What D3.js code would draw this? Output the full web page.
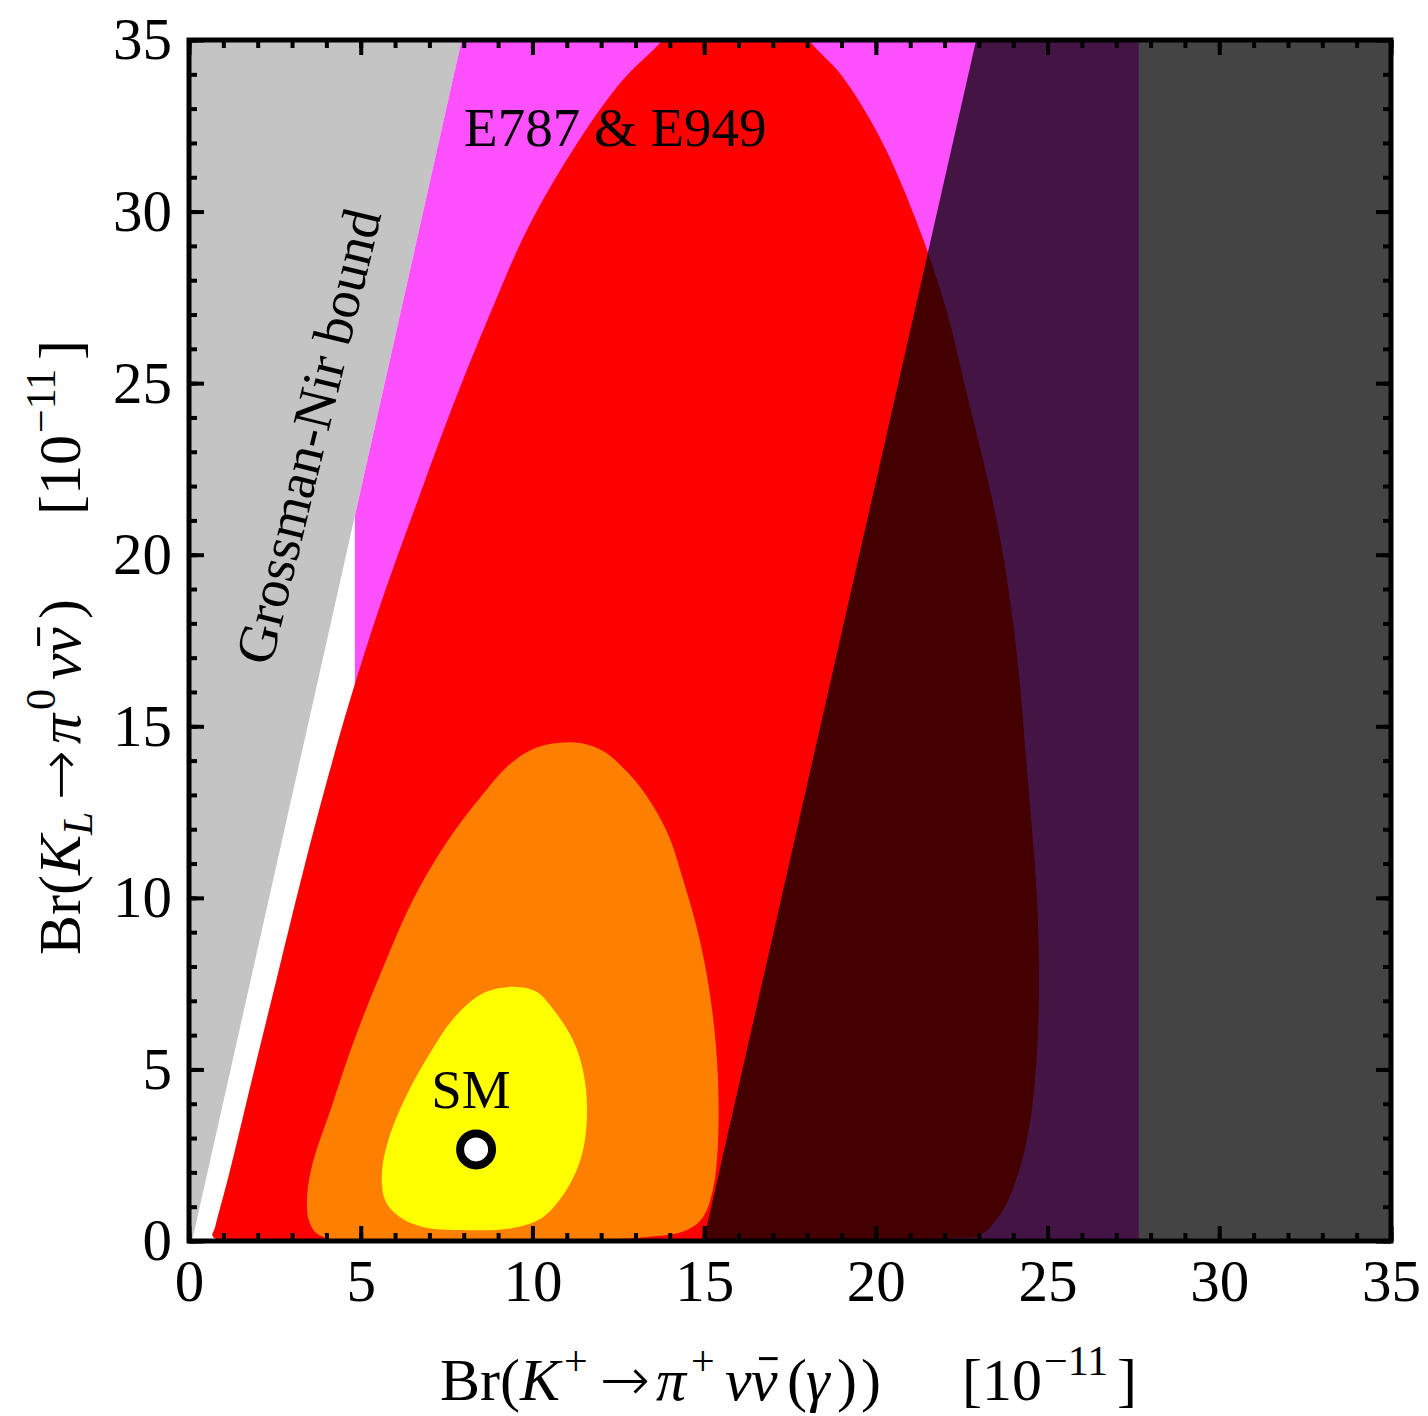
<!DOCTYPE html>
<html>
<head>
<meta charset="utf-8">
<script src="https://cdn.jsdelivr.net/npm/d3@7"></script>
<style>
  body { margin: 0; background: #fff; }
  text { font-family: "Liberation Serif", "Times New Roman", serif; }
</style>
</head>
<body>
<script>
// Br(K+ -> pi+ nu nubar) vs Br(KL -> pi0 nu nubar), both in 10^-11
const xDomain = [0, 35]
const yDomain = [0, 35]
const majorTicks = [0, 5, 10, 15, 20, 25, 30, 35]
const minorTicks = d3.range(0, 36, 1)

// Grossman-Nir excluded wedge (upper left)
const gnBound = [[0, 0], [0.09, 0], [7.94, 35], [0, 35]]

// E787 & E949 band (magenta)
const e949Band = [[4.83, 0], [4.83, 21.13], [7.94, 35], [27.66, 35], [27.66, 0]]

// darkened region to the right
const darkBand = [[14.98, 0], [22.92, 35], [35, 35], [35, 0]]

// contour regions
const redContour = [
  [0.70, 0.12], [0.76, 0.40], [1.16, 1.92], [1.78, 4.49], [2.53, 7.55], [3.29, 10.64],
  [3.96, 13.20], [4.69, 15.77], [5.62, 18.68], [6.67, 21.60], [7.66, 24.28], [8.68, 26.81],
  [9.87, 29.52], [11.27, 31.94], [12.61, 33.81], [13.72, 34.92],
  [14.8, 36.2], [17.1, 36.2],
  [18.11, 34.92], [18.99, 33.98], [20.12, 32.15], [21.14, 29.82], [22.01, 27.28], [22.63, 24.77],
  [23.53, 20.93], [24.05, 17.58], [24.43, 13.38], [24.69, 10.00], [24.75, 7.49], [24.69, 5.48],
  [24.49, 3.47], [24.14, 1.95], [23.67, 0.85], [23.03, 0.17], [22.16, 0.09]
]
const orangeContour = [
  [3.90, 0.12], [3.52, 0.52], [3.44, 1.31], [3.61, 2.30], [4.11, 3.79], [4.78, 5.77],
  [5.56, 7.75], [6.52, 9.94], [7.51, 11.63], [8.47, 12.91], [9.35, 13.90], [10.02, 14.34],
  [10.72, 14.51], [11.39, 14.51], [12.06, 14.28], [12.64, 13.79], [13.22, 13.12], [13.92, 11.92],
  [14.39, 10.52], [14.88, 8.74], [15.23, 6.76], [15.40, 4.78], [15.40, 2.80], [15.26, 1.52],
  [14.97, 0.70], [14.50, 0.32], [13.34, 0.12]
]
const yellowContour = [
  [9.55, 7.40], [10.13, 7.26], [10.60, 6.76], [11.18, 5.86], [11.47, 4.98], [11.59, 3.79],
  [11.44, 2.51], [11.01, 1.52], [10.31, 0.70], [9.44, 0.38], [7.98, 0.32], [6.81, 0.41],
  [6.14, 0.70], [5.71, 1.19], [5.62, 2.01], [5.85, 3.09], [6.35, 4.28], [7.02, 5.48],
  [7.69, 6.47], [8.47, 7.17], [9.06, 7.37]
]

const smPoint = [8.36, 2.67]

const margin = {top: 40, right: 37, bottom: 175, left: 189},
  W = 1428, H = 1416,
  width = W - margin.left - margin.right,
  height = H - margin.top - margin.bottom

const tickFont = 59, titleFont = 60, labelFont = 55, supFont = 42

const x = d3.scaleLinear().domain(xDomain).range([0, width])
const y = d3.scaleLinear().domain(yDomain).range([height, 0])

const svg = d3.select("body").append("svg")
  .attr("width", W)
  .attr("height", H)

svg.append("defs").append("clipPath").attr("id", "plotclip")
  .append("rect").attr("x", 0).attr("y", 0).attr("width", width).attr("height", height)

const g = svg.append("g")
  .attr("transform", "translate(" + margin.left + "," + margin.top + ")")

const plot = g.append("g").attr("clip-path", "url(#plotclip)")

const poly = d3.line().x(d => x(d[0])).y(d => y(d[1])).curve(d3.curveLinearClosed)
const smooth = d3.line().x(d => x(d[0])).y(d => y(d[1])).curve(d3.curveCatmullRomClosed.alpha(0.5))

plot.append("rect").attr("width", width).attr("height", height).attr("fill", "#fff")
plot.append("path").attr("d", poly(gnBound)).attr("fill", "#c4c4c4")
plot.append("path").attr("d", poly(e949Band)).attr("fill", "#ff50ff")
plot.append("path").attr("d", smooth(redContour)).attr("fill", "#ff0000")
plot.append("path").attr("d", smooth(orangeContour)).attr("fill", "#ff8000")
plot.append("path").attr("d", smooth(yellowContour)).attr("fill", "#ffff00")
plot.append("path").attr("d", poly(darkBand)).attr("fill", "#000").attr("fill-opacity", 0.735)

// SM point
plot.append("circle")
  .attr("cx", x(smPoint[0]))
  .attr("cy", y(smPoint[1]))
  .attr("r", 16)
  .attr("fill", "#fff")
  .attr("stroke", "#000")
  .attr("stroke-width", 8)

g.append("text")
  .attr("x", x(8.21)).attr("y", y(3.88))
  .attr("text-anchor", "middle")
  .attr("font-size", labelFont)
  .text("SM")

g.append("text")
  .attr("x", x(8.01)).attr("y", y(31.92))
  .attr("font-size", labelFont)
  .text("E787 & E949")

g.append("text")
  .attr("transform", "translate(" + x(2.39) + "," + y(16.73) + ") rotate(-76.3)")
  .attr("font-size", labelFont)
  .text("Grossman-Nir bound")

// frame
g.append("rect")
  .attr("width", width).attr("height", height)
  .attr("fill", "none").attr("stroke", "#000").attr("stroke-width", 5)

function styleAxis(sel) {
  sel.select(".domain").remove()
  sel.selectAll("line").attr("stroke", "#000").attr("stroke-width", 4)
  sel.attr("font-size", tickFont).attr("font-family", "Liberation Serif, Times New Roman, serif")
  sel.selectAll("text").attr("fill", "#000")
}

const fmt = d3.format("d")
const bottomG = g.append("g").attr("transform", "translate(0," + height + ")")
bottomG.append("g").call(d3.axisBottom(x).tickValues(minorTicks).tickSize(-8).tickFormat("")).call(styleAxis)
bottomG.append("g").call(d3.axisBottom(x).tickValues(majorTicks).tickSize(-15).tickPadding(18).tickFormat(fmt)).call(styleAxis)

const topG = g.append("g")
topG.append("g").call(d3.axisTop(x).tickValues(minorTicks).tickSize(-8).tickFormat("")).call(styleAxis)
topG.append("g").call(d3.axisTop(x).tickValues(majorTicks).tickSize(-15).tickFormat("")).call(styleAxis)

const leftG = g.append("g")
leftG.append("g").call(d3.axisLeft(y).tickValues(minorTicks).tickSize(-8).tickFormat("")).call(styleAxis)
leftG.append("g").call(d3.axisLeft(y).tickValues(majorTicks).tickSize(-15).tickPadding(17).tickFormat(fmt)).call(styleAxis)

const rightG = g.append("g").attr("transform", "translate(" + width + ",0)")
rightG.append("g").call(d3.axisRight(y).tickValues(minorTicks).tickSize(-8).tickFormat("")).call(styleAxis)
rightG.append("g").call(d3.axisRight(y).tickValues(majorTicks).tickSize(-15).tickFormat("")).call(styleAxis)

// axis titles: each part sits at its own offset; nu-bar gets a drawn bar
function addTitle(holder, parts) {
  const t = holder.append("text").attr("font-size", titleFont)
  let idx = 0
  const bars = []
  parts.forEach(p => {
    const ts = t.append("tspan").text(p.t)
      .attr("x", p.x)
      .attr("y", p.y || 0)
    if (p.i) ts.attr("font-style", "italic")
    if (p.s) ts.attr("font-size", p.s)
    if (p.f) ts.attr("font-family", p.f).attr("font-weight", 200)
    if (p.bar) bars.push(idx)
    idx += p.t.length
  })
  bars.forEach(k => {
    const e = t.node().getExtentOfChar(k)
    holder.append("line")
      .attr("x1", e.x + e.width * 0.3).attr("x2", e.x + e.width * 1.0)
      .attr("y1", -0.69 * titleFont).attr("y2", -0.69 * titleFont)
      .attr("stroke", "#000").attr("stroke-width", 3)
  })
}

const arrowFont = "DejaVu Sans"
const xTitle = svg.append("g").attr("transform", "translate(440,1400)")
addTitle(xTitle, [
  {t: "Br(", x: 0},
  {t: "K", i: true, x: 80},
  {t: "+", s: supFont, x: 124, y: -25},
  {t: "\u2192", f: arrowFont, x: 160},
  {t: "\u03c0", i: true, x: 216},
  {t: "+", s: supFont, x: 251, y: -25},
  {t: "\u03bd", i: true, x: 285},
  {t: "\u03bd", i: true, bar: true, x: 311},
  {t: "(", x: 347},
  {t: "\u03b3", i: true, x: 366},
  {t: ")", x: 397},
  {t: ")", x: 421},
  {t: "[10", x: 522},
  {t: "\u221211", s: supFont, x: 604, y: -25},
  {t: "]", x: 677}
])

const yTitle = svg.append("g").attr("transform", "translate(80,955) rotate(-90)")
addTitle(yTitle, [
  {t: "Br(", x: 0},
  {t: "K", i: true, x: 80},
  {t: "L", i: true, s: supFont, x: 120, y: 12},
  {t: "\u2192", f: arrowFont, x: 155},
  {t: "\u03c0", i: true, x: 211},
  {t: "0", s: supFont, x: 245, y: -25},
  {t: "\u03bd", i: true, x: 275},
  {t: "\u03bd", i: true, bar: true, x: 301},
  {t: ")", x: 336},
  {t: "[10", x: 440},
  {t: "\u221211", s: supFont, x: 522, y: -25},
  {t: "]", x: 595}
])
</script>
</body>
</html>
